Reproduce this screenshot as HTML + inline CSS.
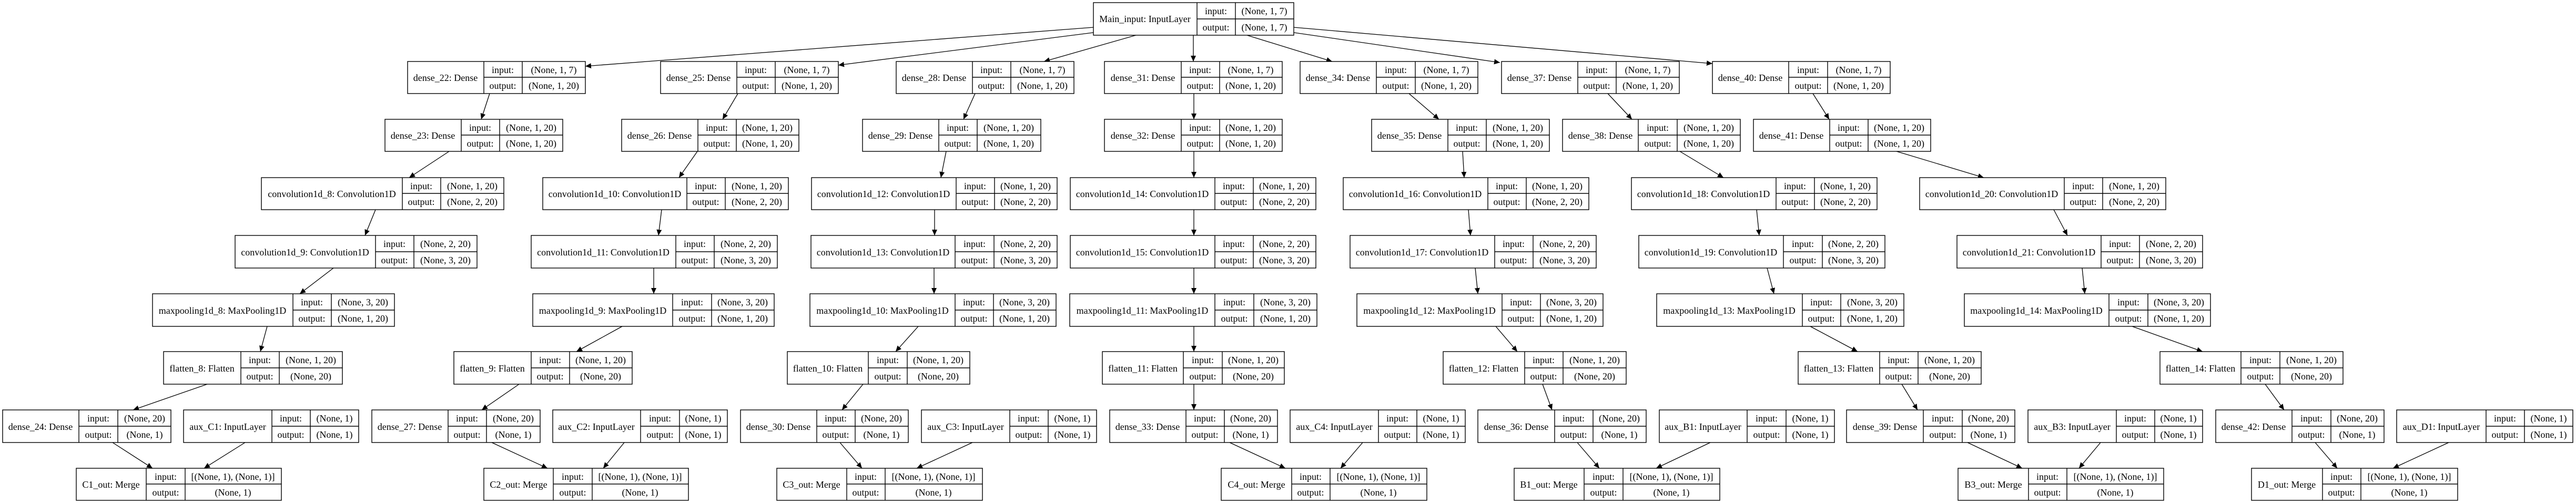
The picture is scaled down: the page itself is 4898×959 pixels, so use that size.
<!DOCTYPE html>
<html><head><meta charset="utf-8"><style>
html,body{margin:0;padding:0;background:#fff}
svg{display:block}
text{font-family:"Liberation Serif","Times New Roman",serif;font-size:18px;fill:#000}
rect{fill:#fff;stroke:#000;stroke-width:1.4}
.d{stroke:#000;stroke-width:1.4}
.e{stroke:#000;stroke-width:1.3;fill:none}
</style></head><body>
<svg xmlns="http://www.w3.org/2000/svg" width="4898" height="959" viewBox="0 0 4898 959">
<defs><marker id="a" markerUnits="userSpaceOnUse" markerWidth="12" markerHeight="10" refX="11" refY="5" orient="auto"><path d="M0,0 L11,5 L0,10 z" fill="#000"/></marker></defs>
<g marker-end="url(#a)" class="e">
<line x1="2079" y1="52" x2="1113" y2="126"/>
<line x1="2079" y1="62" x2="1594" y2="124"/>
<line x1="2160" y1="67" x2="1985" y2="117"/>
<line x1="2269" y1="67" x2="2269" y2="117"/>
<line x1="2371" y1="67" x2="2533" y2="117"/>
<line x1="2460" y1="62" x2="2852" y2="119"/>
<line x1="2460" y1="52" x2="3256" y2="121"/>
<line x1="931" y1="178" x2="915" y2="227"/>
<line x1="854" y1="288" x2="778" y2="338"/>
<line x1="714" y1="399" x2="694" y2="448"/>
<line x1="634" y1="510" x2="570" y2="559"/>
<line x1="508" y1="621" x2="495" y2="669"/>
<line x1="394" y1="731" x2="253" y2="780"/>
<line x1="214" y1="842" x2="290" y2="891"/>
<line x1="466" y1="842" x2="388" y2="891"/>
<line x1="1403" y1="178" x2="1374" y2="227"/>
<line x1="1326" y1="288" x2="1291" y2="338"/>
<line x1="1258" y1="399" x2="1252" y2="448"/>
<line x1="1243" y1="510" x2="1243" y2="559"/>
<line x1="1183" y1="621" x2="1096" y2="669"/>
<line x1="987" y1="731" x2="916" y2="780"/>
<line x1="935" y1="842" x2="1041" y2="891"/>
<line x1="1187" y1="842" x2="1147" y2="891"/>
<line x1="1854" y1="178" x2="1832" y2="227"/>
<line x1="1799" y1="288" x2="1789" y2="338"/>
<line x1="1777" y1="399" x2="1777" y2="448"/>
<line x1="1776" y1="510" x2="1776" y2="559"/>
<line x1="1746" y1="621" x2="1703" y2="669"/>
<line x1="1641" y1="731" x2="1601" y2="780"/>
<line x1="1597" y1="842" x2="1639" y2="891"/>
<line x1="1849" y1="842" x2="1743" y2="891"/>
<line x1="2270" y1="178" x2="2270" y2="227"/>
<line x1="2270" y1="288" x2="2270" y2="338"/>
<line x1="2270" y1="399" x2="2270" y2="448"/>
<line x1="2270" y1="510" x2="2270" y2="559"/>
<line x1="2270" y1="621" x2="2270" y2="669"/>
<line x1="2270" y1="731" x2="2270" y2="780"/>
<line x1="2338" y1="842" x2="2444" y2="891"/>
<line x1="2591" y1="842" x2="2549" y2="891"/>
<line x1="2679" y1="178" x2="2736" y2="227"/>
<line x1="2781" y1="288" x2="2784" y2="338"/>
<line x1="2792" y1="399" x2="2796" y2="448"/>
<line x1="2805" y1="510" x2="2810" y2="559"/>
<line x1="2844" y1="621" x2="2885" y2="669"/>
<line x1="2933" y1="731" x2="2951" y2="780"/>
<line x1="2999" y1="842" x2="3041" y2="891"/>
<line x1="3252" y1="842" x2="3149" y2="891"/>
<line x1="3057" y1="178" x2="3103" y2="227"/>
<line x1="3194" y1="288" x2="3277" y2="338"/>
<line x1="3340" y1="399" x2="3345" y2="448"/>
<line x1="3360" y1="510" x2="3373" y2="559"/>
<line x1="3442" y1="621" x2="3532" y2="669"/>
<line x1="3616" y1="731" x2="3646" y2="780"/>
<line x1="3741" y1="842" x2="3845" y2="891"/>
<line x1="3994" y1="842" x2="3953" y2="891"/>
<line x1="3447" y1="178" x2="3478" y2="227"/>
<line x1="3606" y1="288" x2="3772" y2="338"/>
<line x1="3905" y1="399" x2="3931" y2="448"/>
<line x1="3959" y1="510" x2="3964" y2="559"/>
<line x1="4054" y1="621" x2="4188" y2="669"/>
<line x1="4307" y1="731" x2="4343" y2="780"/>
<line x1="4402" y1="842" x2="4444" y2="891"/>
<line x1="4656" y1="842" x2="4550" y2="891"/>
</g>

<!-- Main input -->
<g><rect x="2079" y="5" width="381" height="62"/><line class="d" x1="2276" y1="5" x2="2276" y2="67"/><line class="d" x1="2349" y1="5" x2="2349" y2="67"/><line class="d" x1="2276" y1="36" x2="2460" y2="36"/>
<text x="2177" y="42" text-anchor="middle">Main_input: InputLayer</text><text x="2312" y="27" text-anchor="middle">input:</text><text x="2404" y="27" text-anchor="middle">(None, 1, 7)</text><text x="2312" y="58" text-anchor="middle">output:</text><text x="2404" y="58" text-anchor="middle">(None, 1, 7)</text></g>

<!-- Row 1 (y=117) -->
<g><rect x="775" y="117" width="338" height="61"/><line class="d" x1="920" y1="117" x2="920" y2="178"/><line class="d" x1="993" y1="117" x2="993" y2="178"/><line class="d" x1="920" y1="147" x2="1113" y2="147"/><text x="847" y="154" text-anchor="middle">dense_22: Dense</text><text x="956" y="139" text-anchor="middle">input:</text><text x="1053" y="139" text-anchor="middle">(None, 1, 7)</text><text x="956" y="169" text-anchor="middle">output:</text><text x="1053" y="169" text-anchor="middle">(None, 1, 20)</text></g>
<g><rect x="1256" y="117" width="338" height="61"/><line class="d" x1="1401" y1="117" x2="1401" y2="178"/><line class="d" x1="1474" y1="117" x2="1474" y2="178"/><line class="d" x1="1401" y1="147" x2="1594" y2="147"/><text x="1328" y="154" text-anchor="middle">dense_25: Dense</text><text x="1437" y="139" text-anchor="middle">input:</text><text x="1534" y="139" text-anchor="middle">(None, 1, 7)</text><text x="1437" y="169" text-anchor="middle">output:</text><text x="1534" y="169" text-anchor="middle">(None, 1, 20)</text></g>
<g><rect x="1704" y="117" width="338" height="61"/><line class="d" x1="1849" y1="117" x2="1849" y2="178"/><line class="d" x1="1922" y1="117" x2="1922" y2="178"/><line class="d" x1="1849" y1="147" x2="2042" y2="147"/><text x="1776" y="154" text-anchor="middle">dense_28: Dense</text><text x="1885" y="139" text-anchor="middle">input:</text><text x="1982" y="139" text-anchor="middle">(None, 1, 7)</text><text x="1885" y="169" text-anchor="middle">output:</text><text x="1982" y="169" text-anchor="middle">(None, 1, 20)</text></g>
<g><rect x="2100" y="117" width="338" height="61"/><line class="d" x1="2246" y1="117" x2="2246" y2="178"/><line class="d" x1="2319" y1="117" x2="2319" y2="178"/><line class="d" x1="2246" y1="147" x2="2438" y2="147"/><text x="2173" y="154" text-anchor="middle">dense_31: Dense</text><text x="2282" y="139" text-anchor="middle">input:</text><text x="2378" y="139" text-anchor="middle">(None, 1, 7)</text><text x="2282" y="169" text-anchor="middle">output:</text><text x="2378" y="169" text-anchor="middle">(None, 1, 20)</text></g>
<g><rect x="2472" y="117" width="338" height="61"/><line class="d" x1="2617" y1="117" x2="2617" y2="178"/><line class="d" x1="2691" y1="117" x2="2691" y2="178"/><line class="d" x1="2617" y1="147" x2="2810" y2="147"/><text x="2544" y="154" text-anchor="middle">dense_34: Dense</text><text x="2654" y="139" text-anchor="middle">input:</text><text x="2750" y="139" text-anchor="middle">(None, 1, 7)</text><text x="2654" y="169" text-anchor="middle">output:</text><text x="2750" y="169" text-anchor="middle">(None, 1, 20)</text></g>
<g><rect x="2855" y="117" width="338" height="61"/><line class="d" x1="3000" y1="117" x2="3000" y2="178"/><line class="d" x1="3073" y1="117" x2="3073" y2="178"/><line class="d" x1="3000" y1="147" x2="3193" y2="147"/><text x="2927" y="154" text-anchor="middle">dense_37: Dense</text><text x="3036" y="139" text-anchor="middle">input:</text><text x="3133" y="139" text-anchor="middle">(None, 1, 7)</text><text x="3036" y="169" text-anchor="middle">output:</text><text x="3133" y="169" text-anchor="middle">(None, 1, 20)</text></g>
<g><rect x="3256" y="117" width="338" height="61"/><line class="d" x1="3401" y1="117" x2="3401" y2="178"/><line class="d" x1="3475" y1="117" x2="3475" y2="178"/><line class="d" x1="3401" y1="147" x2="3594" y2="147"/><text x="3328" y="154" text-anchor="middle">dense_40: Dense</text><text x="3438" y="139" text-anchor="middle">input:</text><text x="3534" y="139" text-anchor="middle">(None, 1, 7)</text><text x="3438" y="169" text-anchor="middle">output:</text><text x="3534" y="169" text-anchor="middle">(None, 1, 20)</text></g>

<!-- Row 2 (y=227) -->
<g><rect x="732" y="227" width="338" height="61"/><line class="d" x1="877" y1="227" x2="877" y2="288"/><line class="d" x1="950" y1="227" x2="950" y2="288"/><line class="d" x1="877" y1="257" x2="1070" y2="257"/><text x="804" y="264" text-anchor="middle">dense_23: Dense</text><text x="913" y="249" text-anchor="middle">input:</text><text x="1010" y="249" text-anchor="middle">(None, 1, 20)</text><text x="913" y="279" text-anchor="middle">output:</text><text x="1010" y="279" text-anchor="middle">(None, 1, 20)</text></g>
<g><rect x="1182" y="227" width="337" height="61"/><line class="d" x1="1327" y1="227" x2="1327" y2="288"/><line class="d" x1="1400" y1="227" x2="1400" y2="288"/><line class="d" x1="1327" y1="257" x2="1519" y2="257"/><text x="1254" y="264" text-anchor="middle">dense_26: Dense</text><text x="1363" y="249" text-anchor="middle">input:</text><text x="1459" y="249" text-anchor="middle">(None, 1, 20)</text><text x="1363" y="279" text-anchor="middle">output:</text><text x="1459" y="279" text-anchor="middle">(None, 1, 20)</text></g>
<g><rect x="1640" y="227" width="339" height="61"/><line class="d" x1="1785" y1="227" x2="1785" y2="288"/><line class="d" x1="1858" y1="227" x2="1858" y2="288"/><line class="d" x1="1785" y1="257" x2="1979" y2="257"/><text x="1712" y="264" text-anchor="middle">dense_29: Dense</text><text x="1821" y="249" text-anchor="middle">input:</text><text x="1918" y="249" text-anchor="middle">(None, 1, 20)</text><text x="1821" y="279" text-anchor="middle">output:</text><text x="1918" y="279" text-anchor="middle">(None, 1, 20)</text></g>
<g><rect x="2100" y="227" width="338" height="61"/><line class="d" x1="2246" y1="227" x2="2246" y2="288"/><line class="d" x1="2319" y1="227" x2="2319" y2="288"/><line class="d" x1="2246" y1="257" x2="2438" y2="257"/><text x="2173" y="264" text-anchor="middle">dense_32: Dense</text><text x="2282" y="249" text-anchor="middle">input:</text><text x="2378" y="249" text-anchor="middle">(None, 1, 20)</text><text x="2282" y="279" text-anchor="middle">output:</text><text x="2378" y="279" text-anchor="middle">(None, 1, 20)</text></g>
<g><rect x="2608" y="227" width="338" height="61"/><line class="d" x1="2753" y1="227" x2="2753" y2="288"/><line class="d" x1="2826" y1="227" x2="2826" y2="288"/><line class="d" x1="2753" y1="257" x2="2946" y2="257"/><text x="2680" y="264" text-anchor="middle">dense_35: Dense</text><text x="2789" y="249" text-anchor="middle">input:</text><text x="2886" y="249" text-anchor="middle">(None, 1, 20)</text><text x="2789" y="279" text-anchor="middle">output:</text><text x="2886" y="279" text-anchor="middle">(None, 1, 20)</text></g>
<g><rect x="2971" y="227" width="338" height="61"/><line class="d" x1="3115" y1="227" x2="3115" y2="288"/><line class="d" x1="3189" y1="227" x2="3189" y2="288"/><line class="d" x1="3115" y1="257" x2="3309" y2="257"/><text x="3043" y="264" text-anchor="middle">dense_38: Dense</text><text x="3152" y="249" text-anchor="middle">input:</text><text x="3249" y="249" text-anchor="middle">(None, 1, 20)</text><text x="3152" y="279" text-anchor="middle">output:</text><text x="3249" y="279" text-anchor="middle">(None, 1, 20)</text></g>
<g><rect x="3334" y="227" width="337" height="61"/><line class="d" x1="3479" y1="227" x2="3479" y2="288"/><line class="d" x1="3552" y1="227" x2="3552" y2="288"/><line class="d" x1="3479" y1="257" x2="3671" y2="257"/><text x="3406" y="264" text-anchor="middle">dense_41: Dense</text><text x="3515" y="249" text-anchor="middle">input:</text><text x="3611" y="249" text-anchor="middle">(None, 1, 20)</text><text x="3515" y="279" text-anchor="middle">output:</text><text x="3611" y="279" text-anchor="middle">(None, 1, 20)</text></g>

<!-- Row 3 conv (y=338) -->
<g><rect x="497" y="338" width="461" height="61"/><line class="d" x1="765" y1="338" x2="765" y2="399"/><line class="d" x1="838" y1="338" x2="838" y2="399"/><line class="d" x1="765" y1="368" x2="958" y2="368"/><text x="631" y="375" text-anchor="middle">convolution1d_8: Convolution1D</text><text x="801" y="360" text-anchor="middle">input:</text><text x="898" y="360" text-anchor="middle">(None, 1, 20)</text><text x="801" y="390" text-anchor="middle">output:</text><text x="898" y="390" text-anchor="middle">(None, 2, 20)</text></g>
<g><rect x="1032" y="338" width="467" height="61"/><line class="d" x1="1306" y1="338" x2="1306" y2="399"/><line class="d" x1="1379" y1="338" x2="1379" y2="399"/><line class="d" x1="1306" y1="368" x2="1499" y2="368"/><text x="1169" y="375" text-anchor="middle">convolution1d_10: Convolution1D</text><text x="1342" y="360" text-anchor="middle">input:</text><text x="1439" y="360" text-anchor="middle">(None, 1, 20)</text><text x="1342" y="390" text-anchor="middle">output:</text><text x="1439" y="390" text-anchor="middle">(None, 2, 20)</text></g>
<g><rect x="1543" y="338" width="467" height="61"/><line class="d" x1="1818" y1="338" x2="1818" y2="399"/><line class="d" x1="1891" y1="338" x2="1891" y2="399"/><line class="d" x1="1818" y1="368" x2="2010" y2="368"/><text x="1680" y="375" text-anchor="middle">convolution1d_12: Convolution1D</text><text x="1854" y="360" text-anchor="middle">input:</text><text x="1950" y="360" text-anchor="middle">(None, 1, 20)</text><text x="1854" y="390" text-anchor="middle">output:</text><text x="1950" y="390" text-anchor="middle">(None, 2, 20)</text></g>
<g><rect x="2035" y="338" width="467" height="61"/><line class="d" x1="2310" y1="338" x2="2310" y2="399"/><line class="d" x1="2383" y1="338" x2="2383" y2="399"/><line class="d" x1="2310" y1="368" x2="2502" y2="368"/><text x="2172" y="375" text-anchor="middle">convolution1d_14: Convolution1D</text><text x="2346" y="360" text-anchor="middle">input:</text><text x="2442" y="360" text-anchor="middle">(None, 1, 20)</text><text x="2346" y="390" text-anchor="middle">output:</text><text x="2442" y="390" text-anchor="middle">(None, 2, 20)</text></g>
<g><rect x="2554" y="338" width="467" height="61"/><line class="d" x1="2829" y1="338" x2="2829" y2="399"/><line class="d" x1="2902" y1="338" x2="2902" y2="399"/><line class="d" x1="2829" y1="368" x2="3021" y2="368"/><text x="2691" y="375" text-anchor="middle">convolution1d_16: Convolution1D</text><text x="2865" y="360" text-anchor="middle">input:</text><text x="2961" y="360" text-anchor="middle">(None, 1, 20)</text><text x="2865" y="390" text-anchor="middle">output:</text><text x="2961" y="390" text-anchor="middle">(None, 2, 20)</text></g>
<g><rect x="3102" y="338" width="467" height="61"/><line class="d" x1="3377" y1="338" x2="3377" y2="399"/><line class="d" x1="3450" y1="338" x2="3450" y2="399"/><line class="d" x1="3377" y1="368" x2="3569" y2="368"/><text x="3239" y="375" text-anchor="middle">convolution1d_18: Convolution1D</text><text x="3413" y="360" text-anchor="middle">input:</text><text x="3509" y="360" text-anchor="middle">(None, 1, 20)</text><text x="3413" y="390" text-anchor="middle">output:</text><text x="3509" y="390" text-anchor="middle">(None, 2, 20)</text></g>
<g><rect x="3650" y="338" width="468" height="61"/><line class="d" x1="3925" y1="338" x2="3925" y2="399"/><line class="d" x1="3998" y1="338" x2="3998" y2="399"/><line class="d" x1="3925" y1="368" x2="4118" y2="368"/><text x="3787" y="375" text-anchor="middle">convolution1d_20: Convolution1D</text><text x="3961" y="360" text-anchor="middle">input:</text><text x="4058" y="360" text-anchor="middle">(None, 1, 20)</text><text x="3961" y="390" text-anchor="middle">output:</text><text x="4058" y="390" text-anchor="middle">(None, 2, 20)</text></g>

<!-- Row 4 conv (y=448) -->
<g><rect x="447" y="448" width="460" height="62"/><line class="d" x1="714" y1="448" x2="714" y2="510"/><line class="d" x1="787" y1="448" x2="787" y2="510"/><line class="d" x1="714" y1="479" x2="907" y2="479"/><text x="580" y="486" text-anchor="middle">convolution1d_9: Convolution1D</text><text x="750" y="470" text-anchor="middle">input:</text><text x="847" y="470" text-anchor="middle">(None, 2, 20)</text><text x="750" y="501" text-anchor="middle">output:</text><text x="847" y="501" text-anchor="middle">(None, 3, 20)</text></g>
<g><rect x="1010" y="448" width="468" height="62"/><line class="d" x1="1285" y1="448" x2="1285" y2="510"/><line class="d" x1="1358" y1="448" x2="1358" y2="510"/><line class="d" x1="1285" y1="479" x2="1478" y2="479"/><text x="1147" y="486" text-anchor="middle">convolution1d_11: Convolution1D</text><text x="1321" y="470" text-anchor="middle">input:</text><text x="1418" y="470" text-anchor="middle">(None, 2, 20)</text><text x="1321" y="501" text-anchor="middle">output:</text><text x="1418" y="501" text-anchor="middle">(None, 3, 20)</text></g>
<g><rect x="1542" y="448" width="468" height="62"/><line class="d" x1="1816" y1="448" x2="1816" y2="510"/><line class="d" x1="1890" y1="448" x2="1890" y2="510"/><line class="d" x1="1816" y1="479" x2="2010" y2="479"/><text x="1679" y="486" text-anchor="middle">convolution1d_13: Convolution1D</text><text x="1853" y="470" text-anchor="middle">input:</text><text x="1950" y="470" text-anchor="middle">(None, 2, 20)</text><text x="1853" y="501" text-anchor="middle">output:</text><text x="1950" y="501" text-anchor="middle">(None, 3, 20)</text></g>
<g><rect x="2035" y="448" width="467" height="62"/><line class="d" x1="2310" y1="448" x2="2310" y2="510"/><line class="d" x1="2383" y1="448" x2="2383" y2="510"/><line class="d" x1="2310" y1="479" x2="2502" y2="479"/><text x="2172" y="486" text-anchor="middle">convolution1d_15: Convolution1D</text><text x="2346" y="470" text-anchor="middle">input:</text><text x="2442" y="470" text-anchor="middle">(None, 2, 20)</text><text x="2346" y="501" text-anchor="middle">output:</text><text x="2442" y="501" text-anchor="middle">(None, 3, 20)</text></g>
<g><rect x="2567" y="448" width="468" height="62"/><line class="d" x1="2842" y1="448" x2="2842" y2="510"/><line class="d" x1="2915" y1="448" x2="2915" y2="510"/><line class="d" x1="2842" y1="479" x2="3035" y2="479"/><text x="2704" y="486" text-anchor="middle">convolution1d_17: Convolution1D</text><text x="2878" y="470" text-anchor="middle">input:</text><text x="2975" y="470" text-anchor="middle">(None, 2, 20)</text><text x="2878" y="501" text-anchor="middle">output:</text><text x="2975" y="501" text-anchor="middle">(None, 3, 20)</text></g>
<g><rect x="3116" y="448" width="468" height="62"/><line class="d" x1="3391" y1="448" x2="3391" y2="510"/><line class="d" x1="3465" y1="448" x2="3465" y2="510"/><line class="d" x1="3391" y1="479" x2="3584" y2="479"/><text x="3253" y="486" text-anchor="middle">convolution1d_19: Convolution1D</text><text x="3428" y="470" text-anchor="middle">input:</text><text x="3524" y="470" text-anchor="middle">(None, 2, 20)</text><text x="3428" y="501" text-anchor="middle">output:</text><text x="3524" y="501" text-anchor="middle">(None, 3, 20)</text></g>
<g><rect x="3721" y="448" width="467" height="62"/><line class="d" x1="3995" y1="448" x2="3995" y2="510"/><line class="d" x1="4068" y1="448" x2="4068" y2="510"/><line class="d" x1="3995" y1="479" x2="4188" y2="479"/><text x="3858" y="486" text-anchor="middle">convolution1d_21: Convolution1D</text><text x="4031" y="470" text-anchor="middle">input:</text><text x="4128" y="470" text-anchor="middle">(None, 2, 20)</text><text x="4031" y="501" text-anchor="middle">output:</text><text x="4128" y="501" text-anchor="middle">(None, 3, 20)</text></g>

<!-- Row 5 maxpool (y=559) -->
<g><rect x="290" y="559" width="460" height="62"/><line class="d" x1="557" y1="559" x2="557" y2="621"/><line class="d" x1="630" y1="559" x2="630" y2="621"/><line class="d" x1="557" y1="590" x2="750" y2="590"/><text x="423" y="597" text-anchor="middle">maxpooling1d_8: MaxPooling1D</text><text x="593" y="581" text-anchor="middle">input:</text><text x="690" y="581" text-anchor="middle">(None, 3, 20)</text><text x="593" y="612" text-anchor="middle">output:</text><text x="690" y="612" text-anchor="middle">(None, 1, 20)</text></g>
<g><rect x="1013" y="559" width="459" height="62"/><line class="d" x1="1279" y1="559" x2="1279" y2="621"/><line class="d" x1="1353" y1="559" x2="1353" y2="621"/><line class="d" x1="1279" y1="590" x2="1472" y2="590"/><text x="1146" y="597" text-anchor="middle">maxpooling1d_9: MaxPooling1D</text><text x="1316" y="581" text-anchor="middle">input:</text><text x="1412" y="581" text-anchor="middle">(None, 3, 20)</text><text x="1316" y="612" text-anchor="middle">output:</text><text x="1412" y="612" text-anchor="middle">(None, 1, 20)</text></g>
<g><rect x="1540" y="559" width="468" height="62"/><line class="d" x1="1816" y1="559" x2="1816" y2="621"/><line class="d" x1="1889" y1="559" x2="1889" y2="621"/><line class="d" x1="1816" y1="590" x2="2008" y2="590"/><text x="1678" y="597" text-anchor="middle">maxpooling1d_10: MaxPooling1D</text><text x="1852" y="581" text-anchor="middle">input:</text><text x="1948" y="581" text-anchor="middle">(None, 3, 20)</text><text x="1852" y="612" text-anchor="middle">output:</text><text x="1948" y="612" text-anchor="middle">(None, 1, 20)</text></g>
<g><rect x="2034" y="559" width="470" height="62"/><line class="d" x1="2310" y1="559" x2="2310" y2="621"/><line class="d" x1="2384" y1="559" x2="2384" y2="621"/><line class="d" x1="2310" y1="590" x2="2504" y2="590"/><text x="2172" y="597" text-anchor="middle">maxpooling1d_11: MaxPooling1D</text><text x="2347" y="581" text-anchor="middle">input:</text><text x="2444" y="581" text-anchor="middle">(None, 3, 20)</text><text x="2347" y="612" text-anchor="middle">output:</text><text x="2444" y="612" text-anchor="middle">(None, 1, 20)</text></g>
<g><rect x="2580" y="559" width="468" height="62"/><line class="d" x1="2856" y1="559" x2="2856" y2="621"/><line class="d" x1="2929" y1="559" x2="2929" y2="621"/><line class="d" x1="2856" y1="590" x2="3048" y2="590"/><text x="2718" y="597" text-anchor="middle">maxpooling1d_12: MaxPooling1D</text><text x="2892" y="581" text-anchor="middle">input:</text><text x="2988" y="581" text-anchor="middle">(None, 3, 20)</text><text x="2892" y="612" text-anchor="middle">output:</text><text x="2988" y="612" text-anchor="middle">(None, 1, 20)</text></g>
<g><rect x="3150" y="559" width="470" height="62"/><line class="d" x1="3427" y1="559" x2="3427" y2="621"/><line class="d" x1="3500" y1="559" x2="3500" y2="621"/><line class="d" x1="3427" y1="590" x2="3620" y2="590"/><text x="3288" y="597" text-anchor="middle">maxpooling1d_13: MaxPooling1D</text><text x="3463" y="581" text-anchor="middle">input:</text><text x="3560" y="581" text-anchor="middle">(None, 3, 20)</text><text x="3463" y="612" text-anchor="middle">output:</text><text x="3560" y="612" text-anchor="middle">(None, 1, 20)</text></g>
<g><rect x="3735" y="559" width="468" height="62"/><line class="d" x1="4010" y1="559" x2="4010" y2="621"/><line class="d" x1="4084" y1="559" x2="4084" y2="621"/><line class="d" x1="4010" y1="590" x2="4203" y2="590"/><text x="3872" y="597" text-anchor="middle">maxpooling1d_14: MaxPooling1D</text><text x="4047" y="581" text-anchor="middle">input:</text><text x="4143" y="581" text-anchor="middle">(None, 3, 20)</text><text x="4047" y="612" text-anchor="middle">output:</text><text x="4143" y="612" text-anchor="middle">(None, 1, 20)</text></g>

<!-- Row 6 flatten (y=669) -->
<g><rect x="311" y="669" width="340" height="62"/><line class="d" x1="458" y1="669" x2="458" y2="731"/><line class="d" x1="531" y1="669" x2="531" y2="731"/><line class="d" x1="458" y1="700" x2="651" y2="700"/><text x="384" y="707" text-anchor="middle">flatten_8: Flatten</text><text x="494" y="691" text-anchor="middle">input:</text><text x="591" y="691" text-anchor="middle">(None, 1, 20)</text><text x="494" y="722" text-anchor="middle">output:</text><text x="591" y="722" text-anchor="middle">(None, 20)</text></g>
<g><rect x="863" y="669" width="339" height="62"/><line class="d" x1="1010" y1="669" x2="1010" y2="731"/><line class="d" x1="1083" y1="669" x2="1083" y2="731"/><line class="d" x1="1010" y1="700" x2="1202" y2="700"/><text x="936" y="707" text-anchor="middle">flatten_9: Flatten</text><text x="1046" y="691" text-anchor="middle">input:</text><text x="1142" y="691" text-anchor="middle">(None, 1, 20)</text><text x="1046" y="722" text-anchor="middle">output:</text><text x="1142" y="722" text-anchor="middle">(None, 20)</text></g>
<g><rect x="1497" y="669" width="347" height="62"/><line class="d" x1="1651" y1="669" x2="1651" y2="731"/><line class="d" x1="1725" y1="669" x2="1725" y2="731"/><line class="d" x1="1651" y1="700" x2="1844" y2="700"/><text x="1574" y="707" text-anchor="middle">flatten_10: Flatten</text><text x="1688" y="691" text-anchor="middle">input:</text><text x="1784" y="691" text-anchor="middle">(None, 1, 20)</text><text x="1688" y="722" text-anchor="middle">output:</text><text x="1784" y="722" text-anchor="middle">(None, 20)</text></g>
<g><rect x="2096" y="669" width="346" height="62"/><line class="d" x1="2250" y1="669" x2="2250" y2="731"/><line class="d" x1="2324" y1="669" x2="2324" y2="731"/><line class="d" x1="2250" y1="700" x2="2442" y2="700"/><text x="2173" y="707" text-anchor="middle">flatten_11: Flatten</text><text x="2287" y="691" text-anchor="middle">input:</text><text x="2383" y="691" text-anchor="middle">(None, 1, 20)</text><text x="2287" y="722" text-anchor="middle">output:</text><text x="2383" y="722" text-anchor="middle">(None, 20)</text></g>
<g><rect x="2744" y="669" width="348" height="62"/><line class="d" x1="2899" y1="669" x2="2899" y2="731"/><line class="d" x1="2972" y1="669" x2="2972" y2="731"/><line class="d" x1="2899" y1="700" x2="3092" y2="700"/><text x="2821" y="707" text-anchor="middle">flatten_12: Flatten</text><text x="2935" y="691" text-anchor="middle">input:</text><text x="3032" y="691" text-anchor="middle">(None, 1, 20)</text><text x="2935" y="722" text-anchor="middle">output:</text><text x="3032" y="722" text-anchor="middle">(None, 20)</text></g>
<g><rect x="3419" y="669" width="348" height="62"/><line class="d" x1="3574" y1="669" x2="3574" y2="731"/><line class="d" x1="3647" y1="669" x2="3647" y2="731"/><line class="d" x1="3574" y1="700" x2="3767" y2="700"/><text x="3496" y="707" text-anchor="middle">flatten_13: Flatten</text><text x="3610" y="691" text-anchor="middle">input:</text><text x="3707" y="691" text-anchor="middle">(None, 1, 20)</text><text x="3610" y="722" text-anchor="middle">output:</text><text x="3707" y="722" text-anchor="middle">(None, 20)</text></g>
<g><rect x="4107" y="669" width="348" height="62"/><line class="d" x1="4261" y1="669" x2="4261" y2="731"/><line class="d" x1="4335" y1="669" x2="4335" y2="731"/><line class="d" x1="4261" y1="700" x2="4455" y2="700"/><text x="4184" y="707" text-anchor="middle">flatten_14: Flatten</text><text x="4298" y="691" text-anchor="middle">input:</text><text x="4395" y="691" text-anchor="middle">(None, 1, 20)</text><text x="4298" y="722" text-anchor="middle">output:</text><text x="4395" y="722" text-anchor="middle">(None, 20)</text></g>

<!-- Row 7 (y=780) -->
<g><rect x="5" y="780" width="320" height="62"/><line class="d" x1="150" y1="780" x2="150" y2="842"/><line class="d" x1="224" y1="780" x2="224" y2="842"/><line class="d" x1="150" y1="811" x2="325" y2="811"/><text x="77" y="818" text-anchor="middle">dense_24: Dense</text><text x="187" y="802" text-anchor="middle">input:</text><text x="275" y="802" text-anchor="middle">(None, 20)</text><text x="187" y="833" text-anchor="middle">output:</text><text x="275" y="833" text-anchor="middle">(None, 1)</text></g>
<g><rect x="349" y="780" width="333" height="62"/><line class="d" x1="517" y1="780" x2="517" y2="842"/><line class="d" x1="590" y1="780" x2="590" y2="842"/><line class="d" x1="517" y1="811" x2="682" y2="811"/><text x="433" y="818" text-anchor="middle">aux_C1: InputLayer</text><text x="553" y="802" text-anchor="middle">input:</text><text x="636" y="802" text-anchor="middle">(None, 1)</text><text x="553" y="833" text-anchor="middle">output:</text><text x="636" y="833" text-anchor="middle">(None, 1)</text></g>
<g><rect x="707" y="780" width="320" height="62"/><line class="d" x1="852" y1="780" x2="852" y2="842"/><line class="d" x1="925" y1="780" x2="925" y2="842"/><line class="d" x1="852" y1="811" x2="1027" y2="811"/><text x="779" y="818" text-anchor="middle">dense_27: Dense</text><text x="888" y="802" text-anchor="middle">input:</text><text x="976" y="802" text-anchor="middle">(None, 20)</text><text x="888" y="833" text-anchor="middle">output:</text><text x="976" y="833" text-anchor="middle">(None, 1)</text></g>
<g><rect x="1051" y="780" width="332" height="62"/><line class="d" x1="1218" y1="780" x2="1218" y2="842"/><line class="d" x1="1292" y1="780" x2="1292" y2="842"/><line class="d" x1="1218" y1="811" x2="1383" y2="811"/><text x="1134" y="818" text-anchor="middle">aux_C2: InputLayer</text><text x="1255" y="802" text-anchor="middle">input:</text><text x="1337" y="802" text-anchor="middle">(None, 1)</text><text x="1255" y="833" text-anchor="middle">output:</text><text x="1337" y="833" text-anchor="middle">(None, 1)</text></g>
<g><rect x="1408" y="780" width="319" height="62"/><line class="d" x1="1553" y1="780" x2="1553" y2="842"/><line class="d" x1="1626" y1="780" x2="1626" y2="842"/><line class="d" x1="1553" y1="811" x2="1727" y2="811"/><text x="1480" y="818" text-anchor="middle">dense_30: Dense</text><text x="1589" y="802" text-anchor="middle">input:</text><text x="1676" y="802" text-anchor="middle">(None, 20)</text><text x="1589" y="833" text-anchor="middle">output:</text><text x="1676" y="833" text-anchor="middle">(None, 1)</text></g>
<g><rect x="1752" y="780" width="333" height="62"/><line class="d" x1="1920" y1="780" x2="1920" y2="842"/><line class="d" x1="1993" y1="780" x2="1993" y2="842"/><line class="d" x1="1920" y1="811" x2="2085" y2="811"/><text x="1836" y="818" text-anchor="middle">aux_C3: InputLayer</text><text x="1956" y="802" text-anchor="middle">input:</text><text x="2039" y="802" text-anchor="middle">(None, 1)</text><text x="1956" y="833" text-anchor="middle">output:</text><text x="2039" y="833" text-anchor="middle">(None, 1)</text></g>
<g><rect x="2110" y="780" width="319" height="62"/><line class="d" x1="2255" y1="780" x2="2255" y2="842"/><line class="d" x1="2328" y1="780" x2="2328" y2="842"/><line class="d" x1="2255" y1="811" x2="2429" y2="811"/><text x="2182" y="818" text-anchor="middle">dense_33: Dense</text><text x="2291" y="802" text-anchor="middle">input:</text><text x="2378" y="802" text-anchor="middle">(None, 20)</text><text x="2291" y="833" text-anchor="middle">output:</text><text x="2378" y="833" text-anchor="middle">(None, 1)</text></g>
<g><rect x="2453" y="780" width="333" height="62"/><line class="d" x1="2621" y1="780" x2="2621" y2="842"/><line class="d" x1="2694" y1="780" x2="2694" y2="842"/><line class="d" x1="2621" y1="811" x2="2786" y2="811"/><text x="2537" y="818" text-anchor="middle">aux_C4: InputLayer</text><text x="2657" y="802" text-anchor="middle">input:</text><text x="2740" y="802" text-anchor="middle">(None, 1)</text><text x="2657" y="833" text-anchor="middle">output:</text><text x="2740" y="833" text-anchor="middle">(None, 1)</text></g>
<g><rect x="2810" y="780" width="320" height="62"/><line class="d" x1="2956" y1="780" x2="2956" y2="842"/><line class="d" x1="3029" y1="780" x2="3029" y2="842"/><line class="d" x1="2956" y1="811" x2="3130" y2="811"/><text x="2883" y="818" text-anchor="middle">dense_36: Dense</text><text x="2992" y="802" text-anchor="middle">input:</text><text x="3079" y="802" text-anchor="middle">(None, 20)</text><text x="2992" y="833" text-anchor="middle">output:</text><text x="3079" y="833" text-anchor="middle">(None, 1)</text></g>
<g><rect x="3155" y="780" width="333" height="62"/><line class="d" x1="3322" y1="780" x2="3322" y2="842"/><line class="d" x1="3396" y1="780" x2="3396" y2="842"/><line class="d" x1="3322" y1="811" x2="3488" y2="811"/><text x="3238" y="818" text-anchor="middle">aux_B1: InputLayer</text><text x="3359" y="802" text-anchor="middle">input:</text><text x="3442" y="802" text-anchor="middle">(None, 1)</text><text x="3359" y="833" text-anchor="middle">output:</text><text x="3442" y="833" text-anchor="middle">(None, 1)</text></g>
<g><rect x="3511" y="780" width="320" height="62"/><line class="d" x1="3657" y1="780" x2="3657" y2="842"/><line class="d" x1="3731" y1="780" x2="3731" y2="842"/><line class="d" x1="3657" y1="811" x2="3831" y2="811"/><text x="3584" y="818" text-anchor="middle">dense_39: Dense</text><text x="3694" y="802" text-anchor="middle">input:</text><text x="3781" y="802" text-anchor="middle">(None, 20)</text><text x="3694" y="833" text-anchor="middle">output:</text><text x="3781" y="833" text-anchor="middle">(None, 1)</text></g>
<g><rect x="3856" y="780" width="332" height="62"/><line class="d" x1="4024" y1="780" x2="4024" y2="842"/><line class="d" x1="4097" y1="780" x2="4097" y2="842"/><line class="d" x1="4024" y1="811" x2="4188" y2="811"/><text x="3940" y="818" text-anchor="middle">aux_B3: InputLayer</text><text x="4060" y="802" text-anchor="middle">input:</text><text x="4142" y="802" text-anchor="middle">(None, 1)</text><text x="4060" y="833" text-anchor="middle">output:</text><text x="4142" y="833" text-anchor="middle">(None, 1)</text></g>
<g><rect x="4213" y="780" width="320" height="62"/><line class="d" x1="4358" y1="780" x2="4358" y2="842"/><line class="d" x1="4432" y1="780" x2="4432" y2="842"/><line class="d" x1="4358" y1="811" x2="4533" y2="811"/><text x="4285" y="818" text-anchor="middle">dense_42: Dense</text><text x="4395" y="802" text-anchor="middle">input:</text><text x="4482" y="802" text-anchor="middle">(None, 20)</text><text x="4395" y="833" text-anchor="middle">output:</text><text x="4482" y="833" text-anchor="middle">(None, 1)</text></g>
<g><rect x="4557" y="780" width="335" height="62"/><line class="d" x1="4727" y1="780" x2="4727" y2="842"/><line class="d" x1="4800" y1="780" x2="4800" y2="842"/><line class="d" x1="4727" y1="811" x2="4892" y2="811"/><text x="4642" y="818" text-anchor="middle">aux_D1: InputLayer</text><text x="4763" y="802" text-anchor="middle">input:</text><text x="4846" y="802" text-anchor="middle">(None, 1)</text><text x="4763" y="833" text-anchor="middle">output:</text><text x="4846" y="833" text-anchor="middle">(None, 1)</text></g>

<!-- Row 8 merges (y=891) -->
<g><rect x="145" y="891" width="390" height="61"/><line class="d" x1="278" y1="891" x2="278" y2="952"/><line class="d" x1="352" y1="891" x2="352" y2="952"/><line class="d" x1="278" y1="921" x2="535" y2="921"/><text x="211" y="928" text-anchor="middle">C1_out: Merge</text><text x="315" y="913" text-anchor="middle">input:</text><text x="443" y="913" text-anchor="middle">[(None, 1), (None, 1)]</text><text x="315" y="943" text-anchor="middle">output:</text><text x="443" y="943" text-anchor="middle">(None, 1)</text></g>
<g><rect x="920" y="891" width="389" height="61"/><line class="d" x1="1052" y1="891" x2="1052" y2="952"/><line class="d" x1="1126" y1="891" x2="1126" y2="952"/><line class="d" x1="1052" y1="921" x2="1309" y2="921"/><text x="986" y="928" text-anchor="middle">C2_out: Merge</text><text x="1089" y="913" text-anchor="middle">input:</text><text x="1217" y="913" text-anchor="middle">[(None, 1), (None, 1)]</text><text x="1089" y="943" text-anchor="middle">output:</text><text x="1217" y="943" text-anchor="middle">(None, 1)</text></g>
<g><rect x="1477" y="891" width="391" height="61"/><line class="d" x1="1610" y1="891" x2="1610" y2="952"/><line class="d" x1="1683" y1="891" x2="1683" y2="952"/><line class="d" x1="1610" y1="921" x2="1868" y2="921"/><text x="1543" y="928" text-anchor="middle">C3_out: Merge</text><text x="1646" y="913" text-anchor="middle">input:</text><text x="1775" y="913" text-anchor="middle">[(None, 1), (None, 1)]</text><text x="1646" y="943" text-anchor="middle">output:</text><text x="1775" y="943" text-anchor="middle">(None, 1)</text></g>
<g><rect x="2322" y="891" width="391" height="61"/><line class="d" x1="2456" y1="891" x2="2456" y2="952"/><line class="d" x1="2529" y1="891" x2="2529" y2="952"/><line class="d" x1="2456" y1="921" x2="2713" y2="921"/><text x="2389" y="928" text-anchor="middle">C4_out: Merge</text><text x="2492" y="913" text-anchor="middle">input:</text><text x="2621" y="913" text-anchor="middle">[(None, 1), (None, 1)]</text><text x="2492" y="943" text-anchor="middle">output:</text><text x="2621" y="943" text-anchor="middle">(None, 1)</text></g>
<g><rect x="2879" y="891" width="391" height="61"/><line class="d" x1="3012" y1="891" x2="3012" y2="952"/><line class="d" x1="3086" y1="891" x2="3086" y2="952"/><line class="d" x1="3012" y1="921" x2="3270" y2="921"/><text x="2945" y="928" text-anchor="middle">B1_out: Merge</text><text x="3049" y="913" text-anchor="middle">input:</text><text x="3178" y="913" text-anchor="middle">[(None, 1), (None, 1)]</text><text x="3049" y="943" text-anchor="middle">output:</text><text x="3178" y="943" text-anchor="middle">(None, 1)</text></g>
<g><rect x="3723" y="891" width="391" height="61"/><line class="d" x1="3857" y1="891" x2="3857" y2="952"/><line class="d" x1="3930" y1="891" x2="3930" y2="952"/><line class="d" x1="3857" y1="921" x2="4114" y2="921"/><text x="3790" y="928" text-anchor="middle">B3_out: Merge</text><text x="3893" y="913" text-anchor="middle">input:</text><text x="4022" y="913" text-anchor="middle">[(None, 1), (None, 1)]</text><text x="3893" y="943" text-anchor="middle">output:</text><text x="4022" y="943" text-anchor="middle">(None, 1)</text></g>
<g><rect x="4281" y="891" width="392" height="61"/><line class="d" x1="4416" y1="891" x2="4416" y2="952"/><line class="d" x1="4489" y1="891" x2="4489" y2="952"/><line class="d" x1="4416" y1="921" x2="4673" y2="921"/><text x="4348" y="928" text-anchor="middle">D1_out: Merge</text><text x="4452" y="913" text-anchor="middle">input:</text><text x="4581" y="913" text-anchor="middle">[(None, 1), (None, 1)]</text><text x="4452" y="943" text-anchor="middle">output:</text><text x="4581" y="943" text-anchor="middle">(None, 1)</text></g>
</svg>
</body></html>
